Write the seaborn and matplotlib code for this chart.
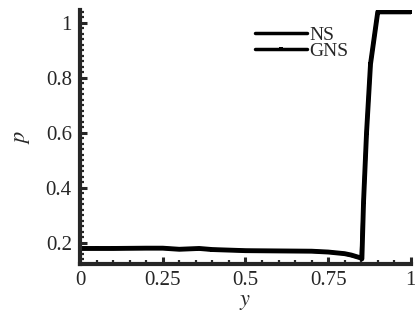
import numpy as np
import pandas as pd
import matplotlib
matplotlib.use("Agg")
import matplotlib.pyplot as plt
from matplotlib.ticker import MultipleLocator, FixedLocator
import seaborn as sns

# data
y_ns = [0.0, 0.1, 0.2, 0.25, 0.3, 0.36, 0.4, 0.5, 0.6, 0.7, 0.75, 0.8, 0.82, 0.85, 0.852, 0.857, 0.866, 0.878, 0.9, 0.905, 0.95, 1.0]
p_ns = [0.180, 0.180, 0.181, 0.181, 0.177, 0.180, 0.176, 0.172, 0.171, 0.170, 0.167, 0.161, 0.156, 0.145, 0.142, 0.35, 0.60, 0.85, 1.04, 1.04, 1.04, 1.04]
y_gns = [0.0, 0.05, 0.1, 0.15, 0.2, 0.25, 0.3, 0.35, 0.4, 0.45, 0.5, 0.55, 0.6, 0.65, 0.7, 0.75, 0.8, 0.85, 0.857, 0.866, 0.878, 0.9, 0.95, 1.0]
p_gns = [0.180, 0.180, 0.180, 0.181, 0.181, 0.181, 0.177, 0.179, 0.176, 0.174, 0.172, 0.171, 0.171, 0.170, 0.170, 0.167, 0.161, 0.145, 0.35, 0.60, 0.85, 1.04, 1.04, 1.04]

x_ticks = [0, 0.25, 0.5, 0.75, 1]
x_ticklabels = ["0", "0.25", "0.5", "0.75", "1"]
y_ticks = [0.2, 0.4, 0.6, 0.8, 1.0]
y_ticklabels = ["0.2", "0.4", "0.6", "0.8", "1"]

df_ns = pd.DataFrame({"y": y_ns, "p": p_ns})
df_gns = pd.DataFrame({"y": y_gns, "p": p_gns})

sns.set_style("ticks")
plt.rcParams["font.family"] = ["Liberation Serif", "DejaVu Serif"]
plt.rcParams["mathtext.fontset"] = "stix"

fig = plt.figure(figsize=(4.15, 3.21), dpi=100)
ax = fig.add_axes([0.193, 0.178, 0.797, 0.791])

sns.lineplot(data=df_ns, x="y", y="p", ax=ax, color="black", linewidth=3.5,
             label="NS", estimator=None, sort=False)
sns.lineplot(data=df_gns, x="y", y="p", ax=ax, color="black", linewidth=2.5,
             marker="s", markersize=3.5, markeredgewidth=0, label="GNS",
             estimator=None, sort=False)

ax.set_xlim(0, 1)
ax.set_ylim(0.124, 1.047)
ax.xaxis.set_major_locator(FixedLocator(x_ticks))
ax.set_xticklabels(x_ticklabels)
ax.xaxis.set_minor_locator(MultipleLocator(0.05))
ax.yaxis.set_major_locator(FixedLocator(y_ticks))
ax.set_yticklabels(y_ticklabels)
ax.yaxis.set_minor_locator(MultipleLocator(0.02))

ax.tick_params(axis="both", which="major", direction="in", length=5, width=2.2,
               labelsize=15)
ax.tick_params(axis="y", which="major", pad=6)
ax.tick_params(axis="x", which="major", pad=5)
ax.tick_params(axis="both", which="minor", direction="in", length=3, width=1.6)

for s in ["top", "right"]:
    ax.spines[s].set_visible(False)
for s in ["left", "bottom"]:
    ax.spines[s].set_linewidth(3)

ax.set_xlabel("$y$", fontsize=16, labelpad=2)
ax.set_ylabel("$p$", fontsize=16, labelpad=10)

leg = ax.legend(loc="upper left", bbox_to_anchor=(0.505, 0.965), frameon=False,
                handlelength=2.7, handletextpad=0.1, labelspacing=-0.1,
                fontsize=14, borderaxespad=0)
for h in leg.get_lines():
    h.set_linewidth(2.5)

fig.savefig("out.png", dpi=100)
